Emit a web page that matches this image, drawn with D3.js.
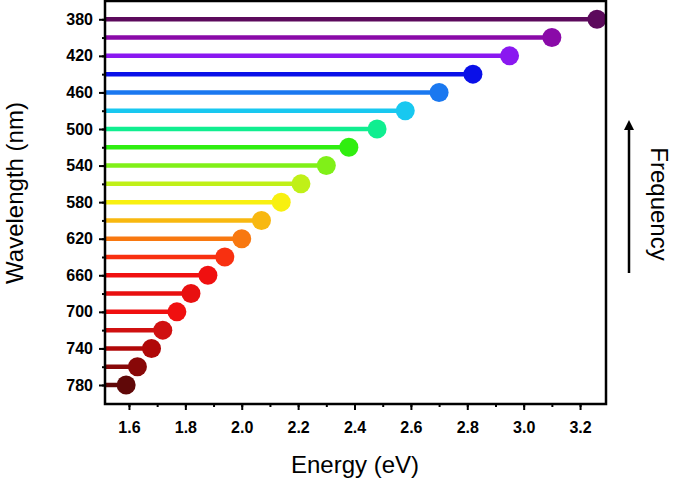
<!DOCTYPE html>
<html><head><meta charset="utf-8">
<script src="https://cdn.jsdelivr.net/npm/d3@7"></script>
<style>body{margin:0;background:#fff}svg{font-family:Arial,"Liberation Sans",sans-serif}</style>
</head><body><svg id="c" width="680" height="484"></svg>
<script>
var wavelengths = [380,400,420,440,460,480,500,520,540,560,580,600,620,640,660,680,700,720,740,760,780];
var energies = [3.26,3.10,2.95,2.82,2.70,2.58,2.48,2.38,2.30,2.21,2.14,2.07,2.00,1.94,1.88,1.82,1.77,1.72,1.68,1.63,1.59];
var colors = ['#5c0a5c','#8a0aa8','#8a18f0','#0a10e8','#1a78f0','#18c8f0','#10ee90','#30ee10','#80f018','#c0f018','#f8f010','#f8b810','#f87810','#f83010','#f01010','#e81010','#f01010','#d01010','#b00808','#880808','#600808'];
var yTicks = [380,420,460,500,540,580,620,660,700,740,780];
var xTicks = [1.6,1.8,2.0,2.2,2.4,2.6,2.8,3.0,3.2];

var svg = d3.select('#c');
var L = 105, R = 606, T = 1, B = 404;
var x = d3.scaleLinear().domain([1.515,3.292]).range([L,R]);
var y = d3.scaleLinear().domain([360,800.8]).range([T,B]);

var g = svg.append('g');
wavelengths.forEach(function(w,i){
	g.append('line').attr('x1',L).attr('x2',x(energies[i])).attr('y1',y(w)).attr('y2',y(w))
	.attr('stroke',colors[i]).attr('stroke-width',4.5);
	g.append('circle').attr('cx',x(energies[i])).attr('cy',y(w)).attr('r',9.5).attr('fill',colors[i]);
});

svg.append('rect').attr('x',L).attr('y',T).attr('width',R-L).attr('height',B-T)
.attr('fill','none').attr('stroke','#000').attr('stroke-width',2.5);

svg.append('g').attr('transform','translate(0,'+B+')')
.call(d3.axisBottom(x).tickValues(xTicks).tickFormat(d3.format('.1f')).tickSize(6).tickPadding(12).tickSizeOuter(0))
.attr('font-size',16).attr('font-weight','bold');
svg.append('g').attr('transform','translate(0,'+B+')')
.call(d3.axisBottom(x).tickValues(d3.range(1.5,3.3,0.1).filter(function(v){return v>1.515;})).tickFormat('').tickSize(3).tickSizeOuter(0));
svg.append('g').attr('transform','translate('+L+',0)')
.call(d3.axisLeft(y).tickValues(yTicks).tickSize(6).tickPadding(6).tickSizeOuter(0))
.attr('font-size',16).attr('font-weight','bold');
svg.append('g').attr('transform','translate('+L+',0)')
.call(d3.axisLeft(y).tickValues(wavelengths).tickFormat('').tickSize(3).tickSizeOuter(0));
svg.selectAll('.domain').remove();
svg.selectAll('.tick line').attr('stroke','#000').attr('stroke-width',2);
svg.selectAll('.tick text').attr('fill','#000');

svg.append('text').attr('x',355).attr('y',473).attr('text-anchor','middle').style('font-size','24px').text('Energy (eV)');
svg.append('text').attr('transform','translate(23,193) rotate(-90)').attr('text-anchor','middle').style('font-size','24px').text('Wavelength (nm)');
svg.append('text').attr('transform','translate(651,204) rotate(90)').attr('text-anchor','middle').style('font-size','24px').text('Frequency');

svg.append('defs').append('marker').attr('id','ah').attr('viewBox','0 0 10 10').attr('refX',5).attr('refY',5)
.attr('markerWidth',4).attr('markerHeight',5).attr('orient','auto')
.append('path').attr('d','M0,0L10,5L0,10z').attr('fill','#000');
svg.append('line').attr('x1',629).attr('x2',629).attr('y1',273).attr('y2',125)
.attr('stroke','#000').attr('stroke-width',2.5).attr('marker-end','url(#ah)');
</script></body></html>
